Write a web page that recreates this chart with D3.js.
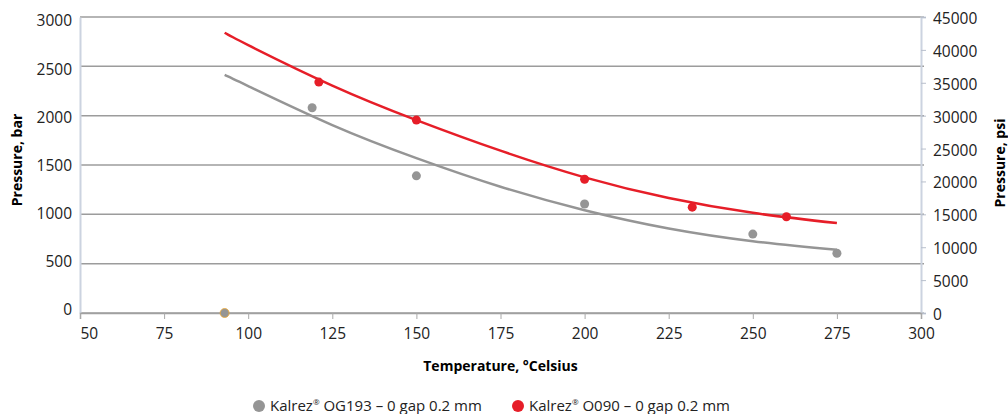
<!DOCTYPE html>
<html>
<head>
<meta charset="utf-8">
<script src="https://cdn.jsdelivr.net/npm/d3@7"></script>
<style>
  body { margin: 0; background: #fff; }
  svg { display: block; }
</style>
</head>
<body>
<svg id="chart"></svg>
<script>
// measured points, temperature (°C) vs pressure (bar)
const og193Temp = [93, 119, 150, 200, 250, 275];
const og193Bar = [0, 2080, 1390, 1105, 800, 605];
const o090Temp = [121, 150, 200, 232, 260];
const o090Bar = [2340, 1955, 1355, 1073, 975];

// trend curves
const og193CurveTemp = [93, 100, 125, 150, 175, 200, 225, 250, 275];
const og193CurveBar = [2413, 2300, 1905, 1570, 1280, 1042, 857, 728, 640];
const o090CurveTemp = [93, 100, 125, 150, 175, 200, 225, 250, 275];
const o090CurveBar = [2840, 2715, 2305, 1955, 1645, 1375, 1165, 1015, 911];

const xTicks = [50, 75, 100, 125, 150, 175, 200, 225, 250, 275, 300];
const barTicks = [0, 500, 1000, 1500, 2000, 2500, 3000];
const psiTicks = [0, 5000, 10000, 15000, 20000, 25000, 30000, 35000, 40000, 45000];
const legendLabels = ["Kalrez", "Kalrez"];
const legendNames = [" OG193 – 0 gap 0.2 mm", " O090 – 0 gap 0.2 mm"];

const width = 1008, height = 414;
const margin = {left: 80, right: 87, top: 17, bottom: 101};
const fontFamily = "'Open Sans', 'Noto Sans', sans-serif";
const grey = "#959595", red = "#e61e28";

let svg = d3.select("#chart")
            .attr("width", width)
            .attr("height", height)

let x = d3.scaleLinear()
          .domain([50, 300])
          .range([margin.left, width - margin.right])
let yBar = d3.scaleLinear()
             .domain([0, 3000])
             .range([height - margin.bottom, margin.top])
let yPsi = d3.scaleLinear()
             .domain([0, 45000])
             .range([height - margin.bottom, margin.top])
// left labels sit a little inside the gridline span
let yBarLabel = d3.scaleLinear()
                  .domain([0, 3000])
                  .range([height - margin.bottom - 3, margin.top + 4])

// gridlines
svg.append("g")
    .selectAll("line")
    .data(barTicks)
    .enter()
    .append("line")
    .attr("x1", margin.left)
    .attr("x2", width - margin.right + 3)
    .attr("y1", d => yBar(d))
    .attr("y2", d => yBar(d))
    .attr("stroke", "#9c9c9c")
    .attr("stroke-width", 1.5)

// left axis
let gLeft = svg.append("g")
    .attr("transform", `translate(${margin.left}, 0)`)
    .call(d3.axisLeft(yBar).tickValues(barTicks).tickFormat(d3.format("d")).tickSize(0).tickPadding(8))
gLeft.select(".domain").attr("stroke", "#ccd3e0").attr("stroke-width", 2)
gLeft.selectAll("text")
    .attr("font-family", fontFamily)
    .attr("font-size", 15.5)
    .attr("fill", "#222")
    .attr("y", d => yBarLabel(d) - yBar(d))

// right axis
let gRight = svg.append("g")
    .attr("transform", `translate(${width - margin.right}, 0)`)
    .call(d3.axisRight(yPsi).tickValues(psiTicks).tickFormat(d3.format("d")).tickSize(5).tickPadding(7))
gRight.select(".domain").attr("stroke", "#ccd3e0").attr("stroke-width", 2)
gRight.selectAll(".tick line").attr("stroke", "#b8bfcc")
gRight.selectAll("text")
    .attr("font-family", fontFamily)
    .attr("font-size", 15.5)
    .attr("fill", "#222")
    .attr("dy", "0.42em")

// bottom axis
let gBottom = svg.append("g")
    .attr("transform", `translate(0, ${height - margin.bottom})`)
    .call(d3.axisBottom(x).tickValues(xTicks).tickSize(6).tickPadding(9))
gBottom.select(".domain").attr("stroke", "#a0a0a0").attr("stroke-width", 1.5)
gBottom.selectAll(".tick line").attr("stroke", "#a8a8a8")
gBottom.selectAll("text")
    .attr("font-family", fontFamily)
    .attr("font-size", 15.5)
    .attr("fill", "#222")
gBottom.selectAll("text").filter(d => d === 50).attr("text-anchor", "start")

// axis titles
svg.append("text")
    .attr("transform", `translate(22, 160) rotate(-90)`)
    .attr("text-anchor", "middle")
    .attr("font-family", fontFamily)
    .attr("font-weight", "bold")
    .attr("font-size", 14)
    .text("Pressure, bar")
svg.append("text")
    .attr("transform", `translate(1005, 163) rotate(-90)`)
    .attr("text-anchor", "middle")
    .attr("font-family", fontFamily)
    .attr("font-weight", "bold")
    .attr("font-size", 14)
    .text("Pressure, psi")
svg.append("text")
    .attr("x", (margin.left + width - margin.right) / 2)
    .attr("y", 371)
    .attr("text-anchor", "middle")
    .attr("font-family", fontFamily)
    .attr("font-weight", "bold")
    .attr("font-size", 14)
    .text("Temperature, °Celsius")

// trend curves
let line = d3.line()
             .x(d => x(d[0]))
             .y(d => yBar(d[1]))
             .curve(d3.curveNatural)
svg.append("path")
    .datum(og193CurveTemp.map((t, i) => [t, og193CurveBar[i]]))
    .attr("d", line)
    .attr("fill", "none")
    .attr("stroke", grey)
    .attr("stroke-width", 2.5)
svg.append("path")
    .datum(o090CurveTemp.map((t, i) => [t, o090CurveBar[i]]))
    .attr("d", line)
    .attr("fill", "none")
    .attr("stroke", red)
    .attr("stroke-width", 2.5)

// points
svg.append("g")
    .selectAll("circle")
    .data(og193Temp.map((t, i) => [t, og193Bar[i]]))
    .enter()
    .append("circle")
    .attr("cx", d => x(d[0]))
    .attr("cy", d => yBar(d[1]))
    .attr("r", 4.5)
    .attr("fill", grey)
    .attr("stroke", d => d[1] === 0 ? "#f0a830" : "none")
    .attr("stroke-width", 0.8)
svg.append("g")
    .selectAll("circle")
    .data(o090Temp.map((t, i) => [t, o090Bar[i]]))
    .enter()
    .append("circle")
    .attr("cx", d => x(d[0]))
    .attr("cy", d => yBar(d[1]))
    .attr("r", 4.5)
    .attr("fill", red)

// legend
let legendX = [259, 518];
let legendColors = [grey, red];
let gLegend = svg.append("g")
gLegend.selectAll("circle")
    .data(legendX)
    .enter()
    .append("circle")
    .attr("cx", d => d)
    .attr("cy", 406)
    .attr("r", 6)
    .attr("fill", (d, i) => legendColors[i])
let legendText = gLegend.selectAll("text")
    .data(legendX)
    .enter()
    .append("text")
    .attr("x", d => d + 11)
    .attr("y", 411)
    .attr("font-family", fontFamily)
    .attr("font-size", 15)
    .attr("fill", "#222")
legendText.append("tspan").text((d, i) => legendLabels[i])
legendText.append("tspan").text("®").attr("font-size", 8).attr("dy", -6)
legendText.append("tspan").text((d, i) => legendNames[i]).attr("dy", 6)
</script>
</body>
</html>
